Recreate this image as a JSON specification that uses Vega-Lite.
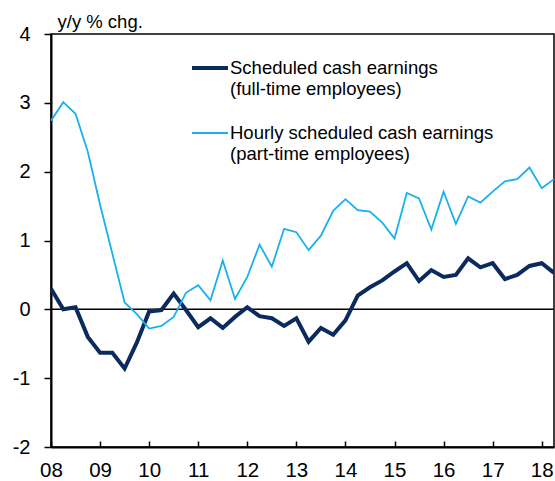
{
  "$schema": "https://vega.github.io/schema/vega-lite/v6.json",
  "width": 503,
  "height": 413,
  "autosize": "none",
  "padding": {"left": 51, "top": 34, "right": 1, "bottom": 34},
  "config": {
    "font": "Liberation Sans",
    "view": {"stroke": "black", "strokeWidth": 1.5},
    "axis": {"labelColor": "black", "titleColor": "black", "domainColor": "black", "tickColor": "black", "grid": false}
  },
  "data": {
    "values": [
      {"t": 2008.00, "full": 0.30, "part": 2.74},
      {"t": 2008.25, "full": 0.00, "part": 3.01},
      {"t": 2008.50, "full": 0.03, "part": 2.84},
      {"t": 2008.75, "full": -0.40, "part": 2.29},
      {"t": 2009.00, "full": -0.63, "part": 1.52},
      {"t": 2009.25, "full": -0.63, "part": 0.81},
      {"t": 2009.50, "full": -0.86, "part": 0.10},
      {"t": 2009.75, "full": -0.48, "part": -0.07},
      {"t": 2010.00, "full": -0.03, "part": -0.28},
      {"t": 2010.25, "full": -0.01, "part": -0.24},
      {"t": 2010.50, "full": 0.23, "part": -0.11},
      {"t": 2010.75, "full": -0.01, "part": 0.24},
      {"t": 2011.00, "full": -0.26, "part": 0.35},
      {"t": 2011.25, "full": -0.13, "part": 0.13},
      {"t": 2011.50, "full": -0.27, "part": 0.71},
      {"t": 2011.75, "full": -0.11, "part": 0.15},
      {"t": 2012.00, "full": 0.03, "part": 0.47},
      {"t": 2012.25, "full": -0.10, "part": 0.94},
      {"t": 2012.50, "full": -0.13, "part": 0.62},
      {"t": 2012.75, "full": -0.24, "part": 1.17},
      {"t": 2013.00, "full": -0.13, "part": 1.12},
      {"t": 2013.25, "full": -0.47, "part": 0.86},
      {"t": 2013.50, "full": -0.27, "part": 1.07},
      {"t": 2013.75, "full": -0.37, "part": 1.43},
      {"t": 2014.00, "full": -0.16, "part": 1.60},
      {"t": 2014.25, "full": 0.20, "part": 1.44},
      {"t": 2014.50, "full": 0.32, "part": 1.42},
      {"t": 2014.75, "full": 0.42, "part": 1.26},
      {"t": 2015.00, "full": 0.55, "part": 1.03},
      {"t": 2015.25, "full": 0.67, "part": 1.69},
      {"t": 2015.50, "full": 0.41, "part": 1.61},
      {"t": 2015.75, "full": 0.57, "part": 1.16},
      {"t": 2016.00, "full": 0.47, "part": 1.71},
      {"t": 2016.25, "full": 0.50, "part": 1.24},
      {"t": 2016.50, "full": 0.74, "part": 1.64},
      {"t": 2016.75, "full": 0.61, "part": 1.55},
      {"t": 2017.00, "full": 0.67, "part": 1.71},
      {"t": 2017.25, "full": 0.44, "part": 1.86},
      {"t": 2017.50, "full": 0.50, "part": 1.89},
      {"t": 2017.75, "full": 0.63, "part": 2.06},
      {"t": 2018.00, "full": 0.67, "part": 1.76},
      {"t": 2018.25, "full": 0.53, "part": 1.89}
    ]
  },
  "layer": [
    {
      "data": {"values": [{}]},
      "mark": {"type": "rule", "color": "black", "strokeWidth": 1.5},
      "encoding": {"y": {"datum": 0, "type": "quantitative"}}
    },
    {
      "transform": [{"fold": ["full", "part"], "as": ["series", "value"]}],
      "mark": {"type": "line", "clip": true, "strokeJoin": "miter"},
      "encoding": {
        "x": {
          "field": "t",
          "type": "quantitative",
          "scale": {"domain": [2008, 2018.25], "nice": false, "zero": false},
          "axis": {
            "values": [2008, 2009, 2010, 2011, 2012, 2013, 2014, 2015, 2016, 2017, 2018],
            "format": "d",
            "labelExpr": "slice(datum.label, 2)",
            "title": null,
            "tickSize": -6,
            "tickWidth": 1.5,
            "domainWidth": 2,
            "labelFontSize": 20.5,
            "labelPadding": 19.5,
            "labelFlush": false,
            "labelOverlap": false
          }
        },
        "y": {
          "field": "value",
          "type": "quantitative",
          "scale": {"domain": [-2, 4], "nice": false},
          "axis": {
            "values": [-2, -1, 0, 1, 2, 3, 4],
            "labelExpr": "toString(datum.value)",
            "title": "y/y % chg.",
            "titleAngle": 0,
            "titleAlign": "left",
            "titleBaseline": "alphabetic",
            "titleX": 6,
            "titleY": -7,
            "titleFontSize": 18.5,
            "titleFontWeight": "normal",
            "labelFontSize": 20,
            "tickSize": 7,
            "tickWidth": 1.5,
            "labelPadding": 14,
            "domainWidth": 2
          }
        },
        "color": {
          "field": "series",
          "type": "nominal",
          "scale": {"domain": ["full", "part"], "range": ["#0b2a5e", "#1ab0ee"]},
          "legend": {
            "orient": "none",
            "legendX": 139,
            "legendY": 14,
            "title": null,
            "padding": 0,
            "symbolType": "stroke",
            "symbolSize": 1296,
            "symbolStrokeWidth": 3,
            "labelFontSize": 18.5,
            "labelColor": "black",
            "labelLimit": 400,
            "labelOffset": 0,
            "labelLineHeight": 21,
            "labelBaseline": "alphabetic",
            "rowPadding": 16,
            "labelExpr": "datum.label == 'full' ? ['Scheduled cash earnings', '(full-time employees)'] : ['Hourly scheduled cash earnings', '(part-time employees)']",
            "encode": {
              "symbols": {"update": {"strokeWidth": {"signal": "datum.value == 'full' ? 4 : 1.8"}}},
              "labels": {"update": {"dy": {"value": 6}}}
            }
          }
        },
        "strokeWidth": {
          "field": "series",
          "type": "nominal",
          "scale": {"domain": ["full", "part"], "range": [4, 1.8]},
          "legend": null
        }
      }
    }
  ]
}
